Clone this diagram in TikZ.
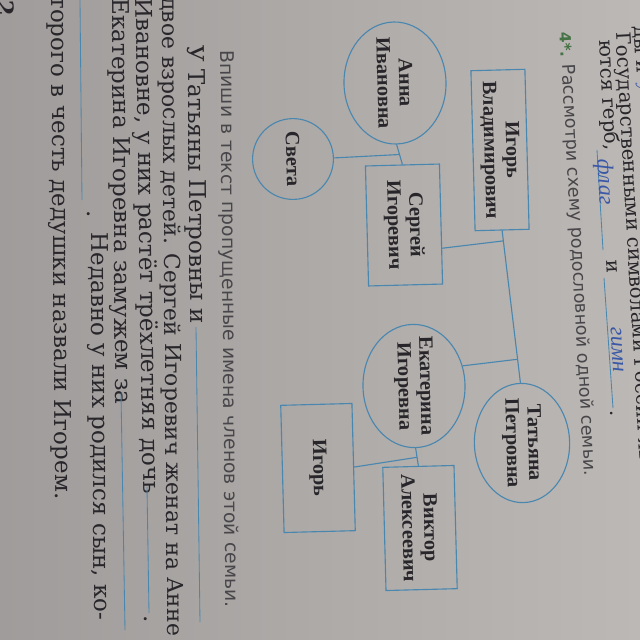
\documentclass[tikz,border=0pt]{standalone}
\usepackage{fontspec}
\setmainfont{Liberation Serif}
\newfontfamily\bodyfont{DejaVu Serif}
\newfontfamily\taskfont{DejaVu Sans}
\usetikzlibrary{shapes.geometric,calc}
\definecolor{paperlt}{RGB}{188,184,181}
\definecolor{paperdk}{RGB}{160,156,155}
\definecolor{treeblue}{RGB}{74,135,175}
\definecolor{inkgray}{RGB}{40,38,42}
\definecolor{taskgray}{RGB}{72,70,74}
\definecolor{penblue}{RGB}{58,88,168}
\definecolor{numgreen}{RGB}{70,115,70}
\tikzset{
  person/.style={draw=treeblue, line width=0.8pt, text=inkgray, align=center,
                 font=\fontsize{14.5}{15.5}\selectfont\bfseries, rotate=-88.5},
  mbox/.style={person, rectangle},
  wcirc/.style={person, ellipse, inner sep=-6pt},
  tieline/.style={draw=treeblue, line width=0.8pt},
  pageline/.style={anchor=west, inner sep=0pt, text=inkgray,
                   font=\bodyfont\fontsize{16.4}{18}\selectfont, rotate=#1},
  pageline/.default=-89.5,
  topline/.style={pageline=-86.8, font=\bodyfont\fontsize{14}{15}\selectfont},
  taskline/.style={anchor=west, inner sep=0pt, text=taskgray,
                   font=\taskfont\fontsize{13.4}{16}\selectfont, rotate=#1},
  taskline/.default=-89.5,
  pen/.style={text=penblue, font=\itshape\fontsize{16}{18}\selectfont,
              inner sep=0pt, rotate=-86.8},
  answerline/.style={draw=treeblue, line width=0.6pt},
}

\begin{document}
\begin{tikzpicture}[x=0.025cm, y=-0.025cm]
\useasboundingbox (0,0) rectangle (640,640);
\clip (0,0) rectangle (640,640);
\shade[left color=paperdk, right color=paperlt] (0,0) rectangle (640,640);

% End of exercise 3 (top right)
\node[topline] (prevA) at (638,26) {ды и};
\node[pen, anchor=west, font=\itshape\fontsize{13}{15}\selectfont] (prevAhand) at (642,84) {установлены};
\node[topline] (prevB) at (621,32) {Государственными символами России яв-};
\node[topline] (prevC) at (605,40) {ются герб,};
\draw[answerline] (597,150) -- (603,250);
\node[pen] (flag) at (604,182) {флаг};
\node[topline, anchor=center] (prevCand) at (612,267) {и};
\draw[answerline] (604,278) -- (613,408);
\node[pen] (anthem) at (617,350) {гимн};
\node[topline, anchor=center] (prevCdot) at (612,414) {.};

% Exercise 4
\node[pageline=-86.8, text=numgreen, font=\taskfont\bfseries\fontsize{11}{13}\selectfont] (num) at (565,32) {4*.};
\node[taskline=-86.9, font=\taskfont\fontsize{12.5}{15}\selectfont] (task) at (567,64) {Рассмотри схему родословной одной семьи.};

% Grandparents
\node[mbox, minimum width=4cm, minimum height=1.35cm] (igorv) at (500,150) {Игорь\\Владимирович};
\node[wcirc, minimum width=2.98cm, minimum height=2.38cm] (tatiana) at (522,443) {Татьяна\\Петровна};

% Sergey's family
\node[wcirc, minimum width=3.05cm, minimum height=2.55cm] (anna) at (395,83) {Анна\\Ивановна};
\node[mbox, minimum width=3cm, minimum height=1.85cm] (sergey) at (404,225) {Сергей\\Игоревич};
\node[wcirc, minimum size=2.02cm] (sveta) at (293,159) {Света};

% Ekaterina's family
\node[wcirc, minimum width=3.08cm, minimum height=2.55cm] (ekaterina) at (414,386) {Екатерина\\Игоревна};
\node[mbox, minimum width=3.08cm, minimum height=1.78cm] (viktor) at (420,528) {Виктор\\Алексеевич};
\node[mbox, minimum width=3.18cm, minimum height=1.78cm] (igor) at (318,468) {Игорь};

% Marriages and children
\draw[tieline] (igorv.east) -- (tatiana.west);
\coordinate (sergeyup) at ($(sergey.north west)!0.7!(sergey.north east)$);
\draw[tieline] (sergeyup) -- ($(igorv.east)!(sergeyup)!(tatiana.west)$);
\draw[tieline] (ekaterina.111) -- ($(igorv.east)!(ekaterina.111)!(tatiana.west)$);
\draw[tieline] (anna.east) -- coordinate (annatie) (sergey.west);
\draw[tieline] (sveta.north) -- (annatie);
\draw[tieline] (ekaterina.east) -- (viktor.west);
\draw[tieline] (igor.north) -- ($(ekaterina.east)!(igor.north)!(viktor.west)$);

% Text to fill in (left)
\node[taskline] (fillin) at (226,50) {Впиши в текст пропущенные имена членов этой семьи.};
\node[pageline] (lineA) at (194,45) {У Татьяны Петровны и};
\draw[answerline] (196,327) -- (200,622);
\node[pageline, font=\bodyfont\fontsize{15.6}{18}\selectfont] (lineB) at (168,-3) {двое взрослых детей. Сергей Игоревич женат на Анне};
\node[pageline=-89.1] (lineC) at (142,-2) {Ивановне, у них растёт трёхлетняя дочь};
\draw[answerline] (147,487) -- (149,613);
\node[pageline, anchor=center] (lineCdot) at (146,619) {.};
\node[pageline] (lineD) at (118,-2) {Екатерина Игоревна замужем за};
\draw[answerline] (121,393) -- (125,630);
\draw[answerline] (80,0) -- (82,200);
\node[pageline, anchor=center] (lineEdot) at (89,214) {.};
\node[pageline] (lineE) at (97,232) {Недавно у них родился сын, ко-};
\node[pageline] (lineF) at (57,-4) {торого в честь дедушки назвали Игорем.};
\node[pageline, anchor=center, font=\bodyfont\bfseries\fontsize{16}{18}\selectfont] (pagenum) at (6,8) {2};

\end{tikzpicture}
\end{document}
